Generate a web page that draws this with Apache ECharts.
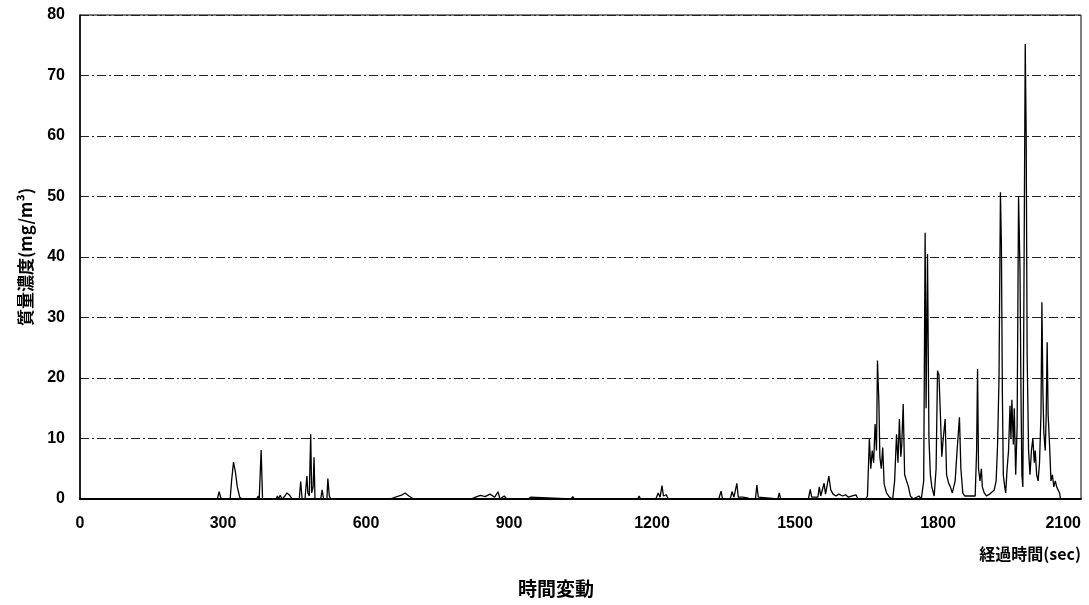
<!DOCTYPE html>
<html><head><meta charset="utf-8">
<script src="https://cdn.jsdelivr.net/npm/echarts@6/dist/echarts.min.js"></script>
<style>html,body{margin:0;padding:0;background:#fff}#c{width:1089px;height:605px}</style>
</head><body><div id="c"></div>
<script>
// elapsed time (sec)
const times = [0,288,292,296,315,318,322,326,330,335,340,370,374,376,380,383,412,414,416,420,424,430,434,440,445,460,463,466,472,476,478,481,484,486,489,491,493,505,508,511,518,520,523,526,553,556,559,650,676,682,690,700,820,830,840,850,860,870,877,881,890,895,940,945,948,1030,1034,1037,1116,1120,1123,1170,1173,1176,1186,1189,1192,1208,1213,1217,1221,1224,1226,1230,1234,1340,1345,1348,1364,1368,1372,1378,1381,1390,1400,1405,1417,1420,1423,1427,1464,1467,1470,1528,1532,1535,1548,1551,1554,1558,1561,1564,1568,1571,1575,1580,1586,1592,1600,1606,1612,1620,1628,1632,1648,1652,1656,1659,1662,1665,1668,1671,1673,1676,1678,1681,1684,1687,1692,1698,1705,1709,1713,1716,1719,1722,1724,1727,1730,1734,1738,1742,1748,1760,1765,1770,1773,1775,1778,1781,1784,1787,1792,1796,1799,1802,1805,1808,1811,1815,1818,1822,1826,1830,1836,1840,1845,1848,1852,1856,1860,1870,1878,1881,1883,1885,1888,1891,1893,1897,1902,1908,1912,1918,1922,1925,1928,1931,1933,1935,1937,1940,1942,1945,1948,1951,1953,1955,1958,1960,1963,1966,1969,1972,1974,1976,1978,1980,1983,1985,1987,1990,1993,1996,1999,2002,2004,2007,2010,2013,2016,2018,2020,2022,2025,2027,2029,2031,2034,2037,2040,2043,2046,2049,2052,2055,2057,2100];
// mass concentration (mg/m3)
const conc = [0,0,1.2,0,0,3,6.1,4.5,2,0.3,0,0,0.5,0,8.1,0,0,0.5,0,0.6,0,0.5,1.0,0.6,0,0,2.9,0,0,3.8,1,0.5,10.7,1,2,6.9,0,0,1.5,0,0,3.4,0.5,0,0,0.3,0,0,0.7,1,0.5,0,0,0.3,0.6,0.4,0.8,0.3,1.2,0,0.5,0,0,0.3,0,0,0.4,0,0,0.3,0,0,0.5,0,0,0.3,0,0,1,0.3,2.2,0.5,0.3,0.7,0,0,1.3,0,0,1.2,0.3,2.6,0.3,0.3,0.2,0,0,2.3,0.3,0,0,1,0,0,1.6,0.3,0.3,2,0.5,0.8,2.6,0.8,1,3.8,1.5,0.8,0.5,0.8,0.5,0.7,0.3,0.5,0.7,0,0,0.5,9.9,5,8,6,12.4,8,22.9,16,7,5,8.5,2.5,1,0.3,0,3,10.7,6,13.2,7,9,15.7,4,3,2,0.5,0,0.5,0,3,44,15,40.5,10,4,2,0.5,5,21.2,20.5,14,7,10,13.2,4,2.7,2,1,3,8,13.5,5,1,0.5,0.3,0.5,0.5,8,21.5,5,3,5,2,1,0.5,0.8,0.5,1.5,3,9,20,50.7,42,18,4,2,1,5,8,15.4,10,16.4,9,15,4,12,50.1,38,18,4,2,30,75.2,60,24,8,4,8,10,6,8,4,3,6,14,32.5,18,11,8,14,25.9,14,9,3,4,2,3,2,1.5,1,0,0];
const xTicks = [0,300,600,900,1200,1500,1800,2100];
const yName = '質量濃度(mg/m³)';
const xName = '経過時間(sec)';
const titleText = '時間変動';

const chart = echarts.init(document.getElementById('c'));
const lbl = {color:'#000', fontWeight:'bold', fontSize:16, fontFamily:'Liberation Sans, Arial, sans-serif'};
chart.setOption({
  animation:false,
  backgroundColor:'#fff',
  title:{text:titleText, left:513, top:574, textStyle:{fontFamily:'Noto Sans CJK JP', fontWeight:'bold', fontSize:19, color:'#000'}},
  grid:{left:80, right:8, top:15, bottom:106, show:true, borderColor:'#000', borderWidth:1, outerBoundsMode:'none', containLabel:false},
  graphic:[{type:'text', right:8, top:546, style:{text:xName, fill:'#000', font:'bold 16px "Noto Sans CJK JP"'}}],
  xAxis:{type:'value', min:0, max:2100, interval:300,
    axisLine:{lineStyle:{color:'#000', width:2}}, axisTick:{show:false},
    axisLabel:Object.assign({margin:17, alignMaxLabel:'right', hideOverlap:false, formatter:v=>xTicks.includes(v)?String(v):''}, lbl),
    splitLine:{show:false}},
  yAxis:{type:'value', min:0, max:80, interval:10,
    name:yName, nameLocation:'middle', nameGap:46, nameRotate:90,
    nameTextStyle:{fontFamily:'Noto Sans CJK JP', fontWeight:'bold', fontSize:17, color:'#000'},
    axisLine:{show:true, lineStyle:{color:'#000', width:1.5}}, axisTick:{show:false},
    axisLabel:Object.assign({margin:15}, lbl),
    splitLine:{show:true, lineStyle:{color:'#222', width:1, type:[9,3,2,3]}}},
  series:[{type:'line', data:times.map((t,i)=>[t,conc[i]]), showSymbol:false, symbol:'none',
    lineStyle:{color:'#000', width:1.3}}]
});
</script></body></html>
